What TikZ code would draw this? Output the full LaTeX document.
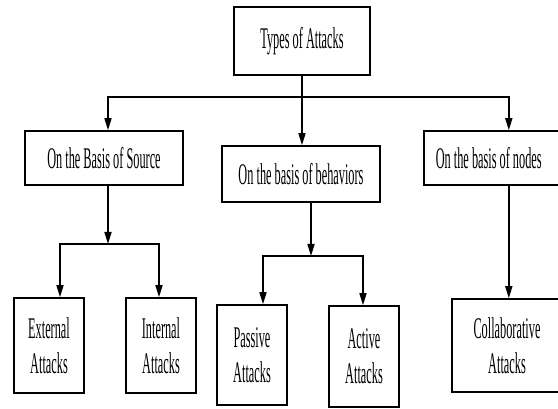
\documentclass[tikz,border=0pt]{standalone}
\usepackage{fontspec}
\setmainfont{Liberation Serif}[FakeStretch=0.41]
\usetikzlibrary{arrows.meta}

\begin{document}
\begin{tikzpicture}[x=1pt, y=-1pt, ->, >={Triangle[length=12pt, width=7pt]},
  line width=1.6pt,
  every node/.style={font=\fontsize{30}{35}\selectfont},
  box/.style={draw, rectangle, inner sep=2pt, align=center}]
  \useasboundingbox (0,0) rectangle (558,409);
  \clip (0,0) rectangle (558,409);

  % top level
  \node[box, minimum width=136, minimum height=68] (types) at (302,41) {Types of Attacks};

  % second level
  \node[box, minimum width=158, minimum height=54] (source) at (104,158)
  {On the Basis of Source};
  \node[box, minimum width=158, minimum height=56] (behav) at (301,174)
  {On the basis of behaviors};
  \node[box, anchor=west, text width=146pt, inner xsep=12pt, minimum height=54,
  align=flush left] (nodes) at (423,158) {On the basis of nodes};

  % leaves
  \node[box, minimum width=70, minimum height=95] (external) at (49,345.5)
  {External\\ Attacks};
  \node[box, minimum width=70, minimum height=95] (internal) at (161,345.5)
  {Internal\\ Attacks};
  \node[box, minimum width=70, minimum height=100] (passive) at (252,355)
  {Passive\\ Attacks};
  \node[box, minimum width=70, minimum height=101] (active) at (364,356.5)
  {Active\\ Attacks};
  \node[box, minimum width=110, minimum height=93] (collab) at (507,345.5)
  {Collaborative\\ Attacks};

  \coordinate (split) at (types.south |- 0,97);
  \coordinate (srcsplit) at ([xshift=4pt]source.south |- 0,244);
  \coordinate (behsplit) at ([xshift=10pt]behav.south |- 0,256);

  \draw[-] (types.south) -- (split);
  \draw (split) -| ([xshift=4pt]source.north);
  \draw (split) -- (split |- behav.north);
  \draw (split) -| (nodes.north);

  \draw ([xshift=4pt]source.south) -- (srcsplit);
  \draw (srcsplit) -| ([xshift=11pt]external.north);
  \draw (srcsplit) -| ([xshift=-2pt]internal.north);

  \draw ([xshift=10pt]behav.south) -- (behsplit);
  \draw (behsplit) -| ([xshift=11pt]passive.north);
  \draw (behsplit) -| ([xshift=-1pt]active.north);

  \draw (nodes.south) -- (nodes.south |- collab.north);
\end{tikzpicture}
\end{document}
